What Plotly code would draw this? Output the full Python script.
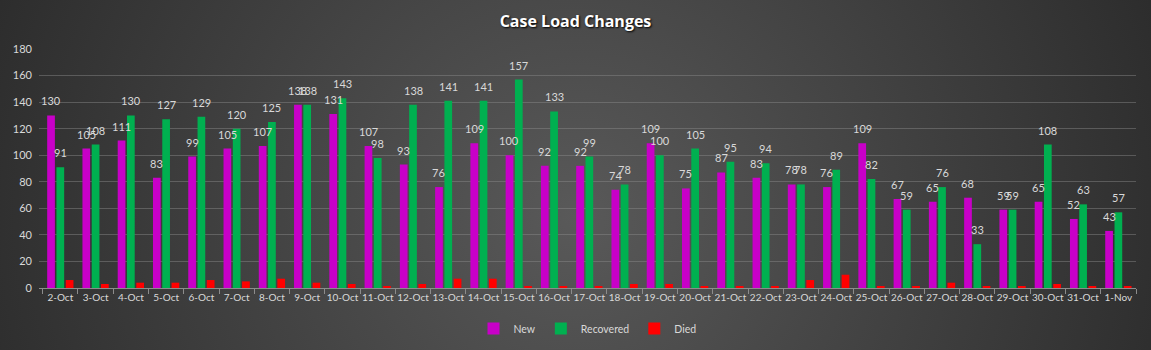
import base64
import plotly.graph_objects as go

dates = ["2-Oct", "3-Oct", "4-Oct", "5-Oct", "6-Oct", "7-Oct", "8-Oct", "9-Oct", "10-Oct", "11-Oct",
         "12-Oct", "13-Oct", "14-Oct", "15-Oct", "16-Oct", "17-Oct", "18-Oct", "19-Oct", "20-Oct", "21-Oct",
         "22-Oct", "23-Oct", "24-Oct", "25-Oct", "26-Oct", "27-Oct", "28-Oct", "29-Oct", "30-Oct", "31-Oct",
         "1-Nov"]
new_cases = [130, 105, 111, 83, 99, 105, 107, 138, 131, 107, 93, 76, 109, 100, 92, 92, 74, 109, 75, 87,
             83, 78, 76, 109, 67, 65, 68, 59, 65, 52, 43]
recovered = [91, 108, 130, 127, 129, 120, 125, 138, 143, 98, 138, 141, 141, 157, 133, 99, 78, 100, 105, 95,
             94, 78, 89, 82, 59, 76, 33, 59, 108, 63, 57]
died = [6, 3, 4, 4, 6, 5, 7, 4, 3, 1, 3, 7, 7, 1, 1, 1, 3, 3, 1, 1, 1, 6, 10, 1, 1, 4, 1, 1, 3, 1, 1]
y_ticks = [0, 20, 40, 60, 80, 100, 120, 140, 160, 180]

W, H = 1151, 350
ML, MR, MT, MB = 39, 15, 49, 62
PW, PH = W - ML - MR, H - MT - MB

svg = f'''<svg xmlns="http://www.w3.org/2000/svg" width="{W}" height="{H}" preserveAspectRatio="none">
<defs><radialGradient id="g" cx="50%" cy="62%" r="62%" fx="50%" fy="62%" gradientTransform="translate(0.5,0.62) scale(1,3.2) translate(-0.5,-0.62)">
<stop offset="0%" stop-color="#595959"/><stop offset="100%" stop-color="#262626"/></radialGradient></defs>
<rect width="{W}" height="{H}" fill="url(#g)"/></svg>'''
bg_uri = "data:image/svg+xml;base64," + base64.b64encode(svg.encode()).decode()

FONT = "Lato, 'Open Sans', sans-serif"
TXT = "#d9d9d9"

fig = go.Figure()
fig.add_trace(go.Bar(name="New", x=dates, y=new_cases, marker=dict(color="#c800c8", line=dict(width=0))))
fig.add_trace(go.Bar(name="Recovered", x=dates, y=recovered, marker=dict(color="#00b050", line=dict(width=0))))
fig.add_trace(go.Bar(name="Died", x=dates, y=died, marker=dict(color="#ff0000", line=dict(width=0))))

cat_w = PW / len(dates)
slot = cat_w * (1 - 0.21) / 3
annotations = []
for d, v in zip(dates, new_cases):
    annotations.append(dict(x=d, y=v, text=str(v), xref="x", yref="y", showarrow=False,
                            xshift=-slot, yshift=6, yanchor="bottom",
                            font=dict(family=FONT, size=11, color=TXT)))
for d, v in zip(dates, recovered):
    annotations.append(dict(x=d, y=v, text=str(v), xref="x", yref="y", showarrow=False,
                            xshift=0, yshift=6, yanchor="bottom",
                            font=dict(family=FONT, size=11, color=TXT)))

fig.update_layout(
    width=W, height=H,
    margin=dict(l=ML, r=MR, t=MT, b=MB, autoexpand=False),
    paper_bgcolor="#333333",
    plot_bgcolor="rgba(0,0,0,0)",
    barmode="group", bargap=0.21, bargroupgap=0.17,
    title=dict(text="<b>Case Load Changes</b>", x=0.5, xanchor="center", y=1 - 21 / H, yanchor="middle",
               font=dict(family="'Open Sans', sans-serif", size=16, color="#ffffff",
                         shadow="1px 1px 2px #000000")),
    font=dict(family=FONT, size=11, color=TXT),
    xaxis=dict(type="category", showgrid=False, showline=True, linecolor="#8c8c8c", linewidth=1,
               ticks="outside", tickson="boundaries", ticklen=5, tickcolor="#8c8c8c",
               tickangle=0, automargin=False,
               tickfont=dict(family=FONT, size=10, color=TXT), fixedrange=True),
    yaxis=dict(range=[0, 180], tickvals=y_ticks, showgrid=True, gridcolor="rgba(140,140,140,0.45)",
               gridwidth=1, zeroline=False, showline=False, ticks="", ticklabelstandoff=6,
               automargin=False,
               tickfont=dict(family=FONT, size=11, color=TXT)),
    legend=dict(orientation="h", x=0.5, xanchor="center", y=-(314 - 288) / PH, yanchor="top",
                font=dict(family=FONT, size=10.5, color=TXT), bgcolor="rgba(0,0,0,0)",
                itemwidth=30, traceorder="normal"),
    annotations=annotations,
    images=[dict(source=bg_uri, xref="paper", yref="paper", x=-ML / PW, y=1 + MT / PH,
                 sizex=W / PW, sizey=H / PH, sizing="stretch", xanchor="left", yanchor="top",
                 layer="below")],
    showlegend=True,
)

fig.write_html("out.html")
